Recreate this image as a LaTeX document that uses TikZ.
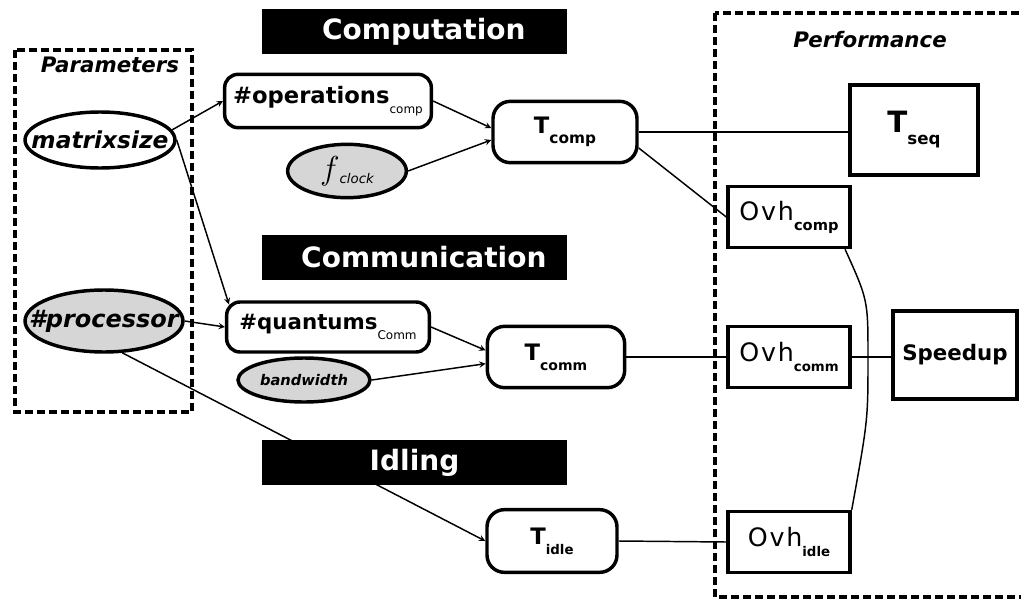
\documentclass[tikz,border=0pt]{standalone}
\usepackage{fontspec}
\setmainfont{DejaVu Sans}
\usetikzlibrary{shapes.geometric}
\definecolor{paramgray}{RGB}{214,214,214}
\newcommand{\fsz}[1]{\fontsize{#1}{#1}\selectfont}
\newcommand{\lowsub}[2]{\raisebox{-7.5pt}{\fsz{#1}#2}}
\newcommand{\ovhtext}{{\addfontfeature{LetterSpace=7}Ovh}}

\begin{document}
\begin{tikzpicture}[>=stealth,x=0.75pt,y=-0.75pt,line width=1.1pt,
    groupframe/.style={line width=2.5pt,dash pattern=on 6pt off 3pt},
    param/.style={ellipse,draw,line width=2.6pt,inner sep=0pt},
    countbox/.style={rectangle,draw,rounded corners=10pt,line width=2.6pt,inner sep=0pt},
    timebox/.style={countbox,rounded corners=13pt,minimum height=46pt},
    ovhbox/.style={rectangle,draw,line width=2.6pt,inner sep=0pt,minimum width=91.5pt,minimum height=45.75pt},
    perfbox/.style={rectangle,draw,line width=3.6pt,inner sep=0pt},
    banner/.style={rectangle,fill=black,text=white,font=\bfseries\fsz{21},inner sep=0pt,minimum width=228.75pt,minimum height=33.5pt}]
	\useasboundingbox (0,0) rectangle (1021,603);
	\draw[groupframe] (15,50) rectangle (192,412);
	\draw[groupframe] (715,13) rectangle (1045,597);
	\node[font=\bfseries\itshape\fsz{16}] (paramlbl) at (110,65) {Parameters};
	\node[font=\bfseries\itshape\fsz{16}] (perflbl) at (870,40) {Performance};
	% parameters
	\node[param,minimum width=112.5pt,minimum height=42pt] (mat) at (100,140) {\makebox[0pt]{\bfseries\itshape\fsz{17.5}matrixsize}};
	\node[param,fill=paramgray,minimum width=118.5pt,minimum height=46.5pt] (proc) at (104,321) {\makebox[0pt]{\bfseries\itshape\fsz{18}\#processor}};
	\node[param,fill=paramgray,minimum width=89pt,minimum height=40pt] (fclk) at (347,171) {\makebox[0pt]{\fsz{23}$f$\raisebox{-3pt}{\fsz{10}\itshape clock}}};
	\node[param,fill=paramgray,minimum width=99pt,minimum height=33pt] (bw) at (304,380) {\makebox[0pt]{\bfseries\itshape\fsz{11}bandwidth}};
	% counts and times
	\node[countbox,minimum width=155pt,minimum height=40pt] (ops) at (328,101) {\bfseries\fsz{17}\#operations\lowsub{9}{\mdseries comp}};
	\node[countbox,minimum width=152pt,minimum height=37.5pt] (quant) at (328,327) {\bfseries\fsz{16}\#quantums\lowsub{9}{\mdseries Comm}};
	\node[timebox,minimum width=108pt] (tcomp) at (565,132) {\bfseries\fsz{17}T\lowsub{11.5}{comp}};
	\node[timebox,minimum width=103pt] (tcomm) at (556,357) {\bfseries\fsz{17}T\lowsub{10.5}{comm}};
	\node[timebox,minimum width=97.5pt,minimum height=47pt] (tidle) at (552,541) {\bfseries\fsz{17}T\lowsub{10}{idle}};
	% performance
	\node[perfbox,minimum width=96pt,minimum height=67.5pt] (tseq) at (914,130) {\bfseries\fsz{22}T\raisebox{-9pt}{\fsz{12.5}seq}};
	\node[ovhbox] (ovhcomp) at (789,217) {\fsz{19}\ovhtext\lowsub{11}{\bfseries comp}};
	\node[ovhbox] (ovhcomm) at (789,357) {\fsz{19}\ovhtext\lowsub{10}{\bfseries comm}};
	\node[ovhbox] (ovhidle) at (789,542) {\fsz{19}\ovhtext\lowsub{10}{\bfseries idle}};
	\node[perfbox,minimum width=93pt,minimum height=66pt] (speedup) at (955,355) {\bfseries\fsz{16}Speedup};
	\coordinate (merge) at (868,357);
	% connectors
	\draw[->] (mat.8) -- (ops.west);
	\draw[->] (mat.east) -- ([xshift=3pt,yshift=-3pt]quant.north west);
	\draw[->] (proc.east) -- (quant.west);
	\draw[->] (proc.-60) -- (tidle.west);
	\draw[->] (ops.east) -- ([yshift=3pt]tcomp.west);
	\draw[->] (fclk.east) -- ([yshift=-6pt]tcomp.west);
	\draw[->] (quant.east) -- ([yshift=5pt]tcomm.west);
	\draw[->] (bw.east) -- ([yshift=-5pt]tcomm.west);
	\draw (tcomp.east) -- (tcomp.east -| tseq.west);
	\draw ([yshift=-12pt]tcomp.east) -- (ovhcomp.west);
	\draw (tcomm.east) -- (ovhcomm.west);
	\draw (tidle.east) -- (ovhidle.west);
	\draw (ovhcomm.east) -- (ovhcomm.east -| speedup.west);
	\draw ([xshift=-5pt]ovhcomp.south east) .. controls (868,300) .. (merge) .. controls (868,420) .. (ovhidle.north east);
	% banners
	\node[banner] (bcomp) at (414.5,31.5) {\hspace{14pt}Computation};
	\node[banner] (bcomm) at (414.5,257.5) {\hspace{14pt}Communication};
	\node[banner] (bidle) at (414.5,462.5) {Idling};
\end{tikzpicture}
\end{document}
